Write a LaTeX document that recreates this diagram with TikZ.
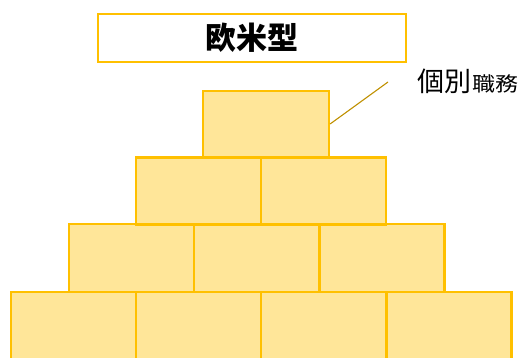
\documentclass[tikz,border=0pt]{standalone}
\usepackage{fontspec}
\usepackage{graphicx}
\newfontfamily\cjk{Noto Sans CJK JP}
\definecolor{gold}{HTML}{FFC000}
\definecolor{goldfill}{HTML}{FFE699}
\definecolor{darkgold}{HTML}{BF9000}
\begin{document}
\begin{tikzpicture}[x=1pt,y=-1pt,
  brick/.style={draw=gold,fill=goldfill,line width=2.2pt,inner sep=0pt,minimum width=125pt,minimum height=67pt},
  titlebox/.style={draw=gold,fill=white,line width=2pt,inner sep=0pt,minimum width=308pt,minimum height=48pt,font=\cjk\bfseries\fontsize{31}{34}\selectfont}]
\useasboundingbox (0,0) rectangle (522,358);
\clip (0,0) rectangle (522,358);
% bottom row
\node[brick,minimum height=68pt] (d1) at (73.5,326) {};
\node[brick,minimum height=68pt] (d2) at (198.5,326) {};
\node[brick,minimum height=68pt] (d3) at (323.5,326) {};
\node[brick,minimum height=68pt] (d4) at (449,326) {};
% third row
\node[brick,minimum height=68pt] (c1) at (131.5,258) {};
\node[brick,minimum height=68pt] (c2) at (256.5,258) {};
\node[brick,minimum height=68pt] (c3) at (382,258) {};
% second row
\node[brick] (b1) at (198.5,191) {};
\node[brick] (b2) at (323.5,191) {};
% top
\node[brick,minimum width=126pt,minimum height=66pt] (top) at (266,124) {};
% title
\node[titlebox] (title) at (252,38) {欧米型};
% label
\node[anchor=base west,inner sep=0pt] (lab) at (417,92) {\cjk{\fontsize{27}{30}\selectfont 個別}\kern1pt\scalebox{1.15}[1]{\cjk\fontsize{20}{24}\selectfont 職務}};
\coordinate (lend) at (388,82);
\draw[darkgold,line width=1.1pt] (top.east) -- (lend);
\end{tikzpicture}
\end{document}
